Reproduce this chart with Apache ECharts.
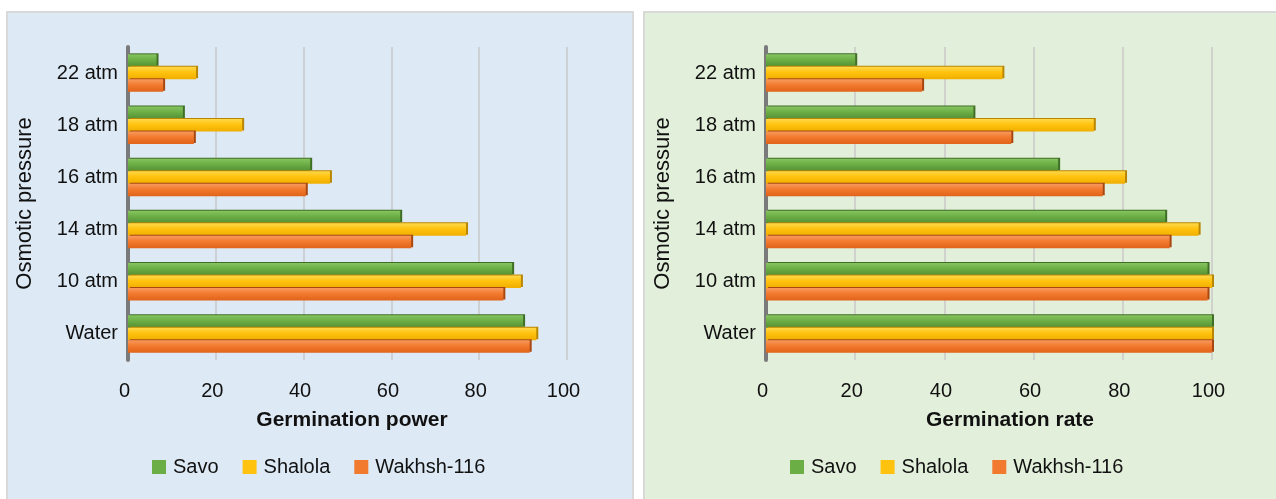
<!DOCTYPE html>
<html>
<head>
<meta charset="utf-8">
<script src="https://cdn.jsdelivr.net/npm/echarts@6/dist/echarts.min.js"></script>
<style>
  html, body { margin: 0; padding: 0; background: #ffffff; }
  .panel { position: absolute; top: 11px; height: 492px; box-sizing: border-box; border: 2px solid #d9d9d9; }
  .panel.left { left: 6px; width: 628px; background: #dde9f5; }
  .panel.right { left: 643px; width: 640px; background: #e2efda; }
  #chart { position: absolute; left: 0; top: 0; width: 1276px; height: 499px; }
</style>
</head>
<body>
<div class="panel left"></div>
<div class="panel right"></div>
<div id="chart"></div>
<script>
// osmotic pressure levels, top to bottom
const categories = ['22 atm', '18 atm', '16 atm', '14 atm', '10 atm', 'Water'];
const varieties = ['Savo', 'Shalola', 'Wakhsh-116'];
const valueTicks = [0, 20, 40, 60, 80, 100];

// germination power (left panel)
const powerSavo = [6.5, 12.5, 41.5, 62, 87.5, 90];
const powerShalola = [15.5, 26, 46, 77, 89.5, 93];
const powerWakhsh = [8, 15, 40.5, 64.5, 85.5, 91.5];

// germination rate (right panel)
const rateSavo = [20, 46.5, 65.5, 89.5, 99, 100];
const rateShalola = [53, 73.5, 80.5, 97, 100, 100];
const rateWakhsh = [35, 55, 75.5, 90.5, 99, 100];

const palette = [
  { top: '#86c45f', mid: '#6cae46', bottom: '#548f33', side: '#3f6e25' },
  { top: '#ffd84a', mid: '#ffc20e', bottom: '#f0ae00', side: '#b88600' },
  { top: '#f89a5e', mid: '#f27a2e', bottom: '#e0631a', side: '#a84810' }
];

const textColor = '#111111';
const fontFamily = 'Liberation Sans, Arial, sans-serif';

const barFill = (c) => new echarts.graphic.LinearGradient(0, 0, 0, 1, [
  { offset: 0, color: c.top },
  { offset: 0.45, color: c.mid },
  { offset: 1, color: c.bottom }
]);

const panels = [
  { left: 128, width: 439, name: 'Germination power', namePad: 9, legendLeft: 152,
    data: [powerSavo, powerShalola, powerWakhsh] },
  { left: 766, width: 446, name: 'Germination rate', namePad: 42, legendLeft: 790,
    data: [rateSavo, rateShalola, rateWakhsh] }
];

const grid = [];
const xAxis = [];
const yAxis = [];
const legend = [];
const series = [];

panels.forEach((p, i) => {
  grid.push({ left: p.left, top: 47, width: p.width, height: 313 });
  xAxis.push({
    type: 'value',
    gridIndex: i,
    min: valueTicks[0],
    max: valueTicks[valueTicks.length - 1],
    interval: valueTicks[1] - valueTicks[0],
    name: p.name,
    nameLocation: 'middle',
    nameGap: 50,
    nameTextStyle: { color: textColor, fontSize: 21, fontWeight: 'bold', fontFamily, padding: [0, 0, 0, p.namePad] },
    axisLine: { show: false },
    axisTick: { show: false },
    axisLabel: { color: textColor, fontSize: 20, fontFamily, margin: 21, padding: [0, 7, 0, 0] },
    splitLine: { lineStyle: { color: '#c8c8c8', width: 1.5 } }
  });
  yAxis.push({
    type: 'category',
    gridIndex: i,
    inverse: true,
    data: categories,
    name: 'Osmotic pressure',
    nameLocation: 'middle',
    nameGap: 92,
    nameTextStyle: { color: textColor, fontSize: 22, fontFamily },
    axisLine: { lineStyle: { color: '#7a7a7a', width: 4 } },
    axisTick: { show: false },
    axisLabel: { color: textColor, fontSize: 20, fontFamily, margin: 10 }
  });
  legend.push({
    left: p.legendLeft,
    top: 457,
    padding: 0,
    itemWidth: 14,
    itemHeight: 14,
    itemGap: 24,
    icon: 'rect',
    data: varieties.map((v, k) => ({ name: v, itemStyle: { color: palette[k].mid } })),
    textStyle: { color: textColor, fontSize: 20, fontFamily, lineHeight: 14, padding: [0, 0, 0, 2] }
  });
  p.data.forEach((vals, k) => {
    series.push({
      name: varieties[k],
      type: 'bar',
      xAxisIndex: i,
      yAxisIndex: i,
      data: vals,
      barWidth: 12.5,
      barGap: '0%',
      animation: false,
      itemStyle: {
        color: barFill(palette[k]),
        shadowColor: palette[k].side,
        shadowOffsetX: 2,
        shadowOffsetY: -1,
        shadowBlur: 0
      }
    });
  });
});

const chart = echarts.init(document.getElementById('chart'));
chart.setOption({ animation: false, grid, xAxis, yAxis, legend, series });
window.addEventListener('resize', () => chart.resize());
</script>
</body>
</html>
